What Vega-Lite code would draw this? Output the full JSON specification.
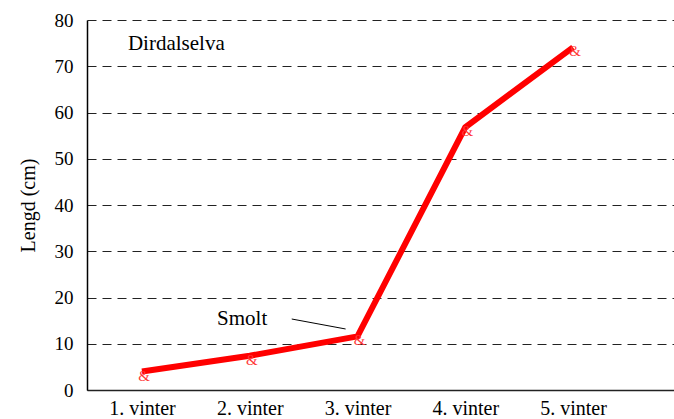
{
  "$schema": "https://vega.github.io/schema/vega-lite/v6.json",
  "autosize": "none",
  "width": 600,
  "height": 370,
  "padding": {"left": 87, "top": 20, "right": 0, "bottom": 29},
  "background": "white",
  "config": {
    "view": {"stroke": null},
    "font": "Liberation Serif",
    "axis": {"labelFont": "Liberation Serif", "titleFont": "Liberation Serif", "labelColor": "black", "titleColor": "black"}
  },
  "datasets": {
    "pts": [
      {"vinter": 1, "lengd": 4.0},
      {"vinter": 2, "lengd": 7.4},
      {"vinter": 3, "lengd": 11.6},
      {"vinter": 4, "lengd": 56.8},
      {"vinter": 5, "lengd": 74.1}
    ],
    "notes": [
      {"x": 0.87, "y": 73.6, "label": "Dirdalselva", "kind": "title"},
      {"x": 1.93, "y": 14.0, "label": "Smolt", "kind": "smolt"}
    ],
    "leader": [
      {"x": 2.39, "y": 15.35, "x2": 2.89, "y2": 13.19}
    ]
  },
  "layer": [
    {
      "data": {"name": "pts"},
      "mark": {"type": "line", "color": "#ff0000", "strokeWidth": 6, "strokeJoin": "miter", "clip": false},
      "encoding": {
        "x": {
          "field": "vinter", "type": "quantitative",
          "scale": {"domain": [0.49, 6.058], "nice": false, "zero": false},
          "axis": {
            "title": null, "values": [1, 2, 3, 4, 5], "grid": false, "ticks": false,
            "labelExpr": "datum.value + '. vinter'", "labelFontSize": 20, "labelPadding": 8,
            "domainColor": "#222222", "domainWidth": 1.5
          }
        },
        "y": {
          "field": "lengd", "type": "quantitative",
          "scale": {"domain": [0, 80], "nice": false},
          "axis": {
            "title": "Lengd (cm)", "titleFontSize": 20, "titleFontWeight": "normal", "titlePadding": 16,
            "values": [0, 10, 20, 30, 40, 50, 60, 70, 80],
            "labelFontSize": 19, "labelPadding": 14, "ticks": false,
            "grid": true, "gridColor": "#222222", "gridDash": [9, 6], "gridWidth": 1,
            "domainColor": "black", "domainWidth": 1.5
          }
        }
      }
    },
    {
      "data": {"name": "pts"},
      "mark": {"type": "text", "text": "&", "color": "#ff3838", "fontSize": 15, "dx": 2, "dy": 4, "font": "Liberation Serif"},
      "encoding": {
        "x": {"field": "vinter", "type": "quantitative"},
        "y": {"field": "lengd", "type": "quantitative"}
      }
    },
    {
      "data": {"name": "leader"},
      "mark": {"type": "rule", "color": "black", "strokeWidth": 1},
      "encoding": {
        "x": {"field": "x", "type": "quantitative"},
        "x2": {"field": "x2"},
        "y": {"field": "y", "type": "quantitative"},
        "y2": {"field": "y2"}
      }
    },
    {
      "data": {"name": "notes"},
      "transform": [{"filter": "datum.kind == 'title'"}],
      "mark": {"type": "text", "align": "left", "baseline": "alphabetic", "fontSize": 21, "color": "black", "font": "Liberation Serif"},
      "encoding": {
        "x": {"field": "x", "type": "quantitative"},
        "y": {"field": "y", "type": "quantitative"},
        "text": {"field": "label"}
      }
    },
    {
      "data": {"name": "notes"},
      "transform": [{"filter": "datum.kind == 'smolt'"}],
      "mark": {"type": "text", "align": "center", "baseline": "alphabetic", "fontSize": 21, "color": "black", "font": "Liberation Serif"},
      "encoding": {
        "x": {"field": "x", "type": "quantitative"},
        "y": {"field": "y", "type": "quantitative"},
        "text": {"field": "label"}
      }
    }
  ]
}
